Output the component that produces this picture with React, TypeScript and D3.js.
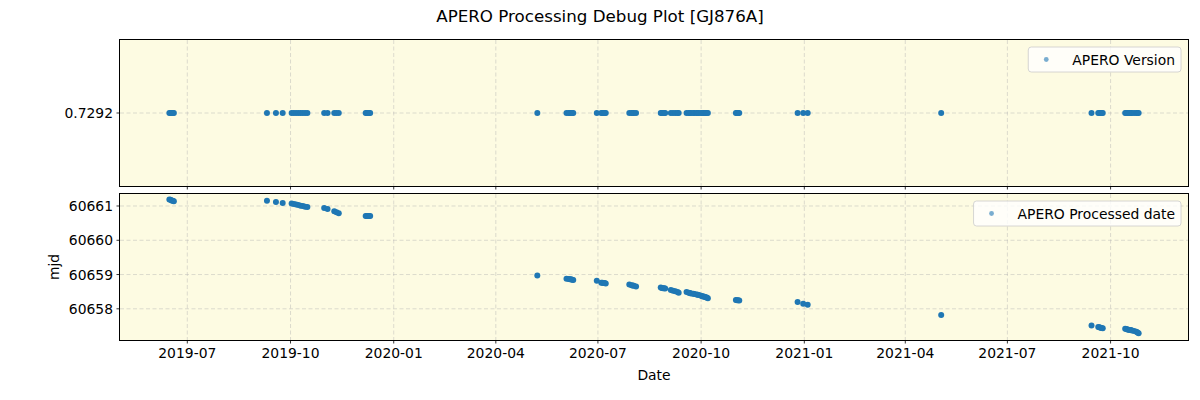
import React, { useEffect, useRef } from "react";
import * as d3 from "d3";

const obsDates = [
  "2019-06-15", "2019-06-16", "2019-06-17", "2019-06-18", "2019-06-19",
  "2019-09-10", "2019-09-18", "2019-09-24",
  "2019-10-02", "2019-10-04", "2019-10-06", "2019-10-08", "2019-10-10", "2019-10-12", "2019-10-14", "2019-10-16",
  "2019-10-31", "2019-11-03", "2019-11-09", "2019-11-11", "2019-11-13",
  "2019-12-07", "2019-12-08", "2019-12-09", "2019-12-10", "2019-12-11",
  "2020-05-08",
  "2020-06-03", "2020-06-05", "2020-06-06", "2020-06-07", "2020-06-08", "2020-06-09",
  "2020-06-30", "2020-07-04", "2020-07-05", "2020-07-06", "2020-07-07", "2020-07-08",
  "2020-07-29", "2020-07-31", "2020-08-01", "2020-08-02", "2020-08-04",
  "2020-08-26", "2020-08-27", "2020-08-28", "2020-08-29", "2020-08-30",
  "2020-09-04", "2020-09-06", "2020-09-08", "2020-09-10", "2020-09-11",
  "2020-09-18", "2020-09-20", "2020-09-21", "2020-09-22", "2020-09-24", "2020-09-25", "2020-09-27", "2020-09-28",
  "2020-09-29", "2020-10-01", "2020-10-02", "2020-10-03", "2020-10-04", "2020-10-05", "2020-10-06", "2020-10-07",
  "2020-11-01", "2020-11-02", "2020-11-03", "2020-11-04",
  "2020-12-26", "2020-12-31", "2021-01-04",
  "2021-05-03",
  "2021-09-14", "2021-09-20", "2021-09-21", "2021-09-22", "2021-09-23", "2021-09-24",
  "2021-10-14", "2021-10-15", "2021-10-16", "2021-10-17", "2021-10-18", "2021-10-19", "2021-10-20",
  "2021-10-22", "2021-10-24", "2021-10-25", "2021-10-26",
];

const processedMjd = [
  60661.19, 60661.18, 60661.16, 60661.15, 60661.14,
  60661.15, 60661.12, 60661.09,
  60661.07, 60661.06, 60661.04, 60661.03, 60661.01, 60661.0, 60660.98, 60660.97,
  60660.94, 60660.91, 60660.85, 60660.82, 60660.79,
  60660.71, 60660.71, 60660.71, 60660.71, 60660.71,
  60658.97,
  60658.88, 60658.87, 60658.86, 60658.86, 60658.85, 60658.84,
  60658.82, 60658.76, 60658.76, 60658.75, 60658.75, 60658.74,
  60658.71, 60658.69, 60658.68, 60658.67, 60658.65,
  60658.62, 60658.61, 60658.60, 60658.60, 60658.59,
  60658.55, 60658.53, 60658.51, 60658.49, 60658.47,
  60658.49, 60658.47, 60658.46, 60658.45, 60658.44, 60658.43, 60658.42, 60658.41,
  60658.40, 60658.38, 60658.37, 60658.36, 60658.35, 60658.34, 60658.33, 60658.31,
  60658.26, 60658.25, 60658.25, 60658.24,
  60658.2, 60658.15, 60658.12,
  60657.82,
  60657.51, 60657.47, 60657.46, 60657.45, 60657.44, 60657.43,
  60657.42, 60657.41, 60657.4, 60657.39, 60657.38, 60657.38, 60657.37,
  60657.35, 60657.33, 60657.31, 60657.29,
];

const aperoVersion = 0.7292;
const versionTicks = ["0.7292"];
const mjdTicks = [60658, 60659, 60660, 60661];
const xDomain = ["2019-05-02", "2021-12-09"];

const width = 1200;
const height = 400;
const left = 120;
const right = 1188;
const topPanel = { y0: 40, y1: 186 };
const botPanel = { y0: 194, y1: 340 };
const font = "DejaVu Sans, sans-serif";
const blue = "#1f77b4";
const bg = "#fdfbe2";

const App = () => {
  const ref = useRef<SVGSVGElement>(null);

  useEffect(() => {
    const svg = d3.select(ref.current);
    svg.selectAll("*").remove();
    const parse = d3.timeParse("%Y-%m-%d");
    const dates = obsDates.map(d => parse(d)!);

    const x = d3.scaleTime()
      .domain(xDomain.map(d => parse(d)!))
      .range([left, right]);
    const xTicks = x.ticks(d3.timeMonth.every(3)!);

    const yTop = d3.scaleLinear()
      .domain([aperoVersion - 0.0001, aperoVersion + 0.0001])
      .range([topPanel.y1, topPanel.y0]);
    const yBot = d3.scaleLinear()
      .domain([60657.09, 60661.35])
      .range([botPanel.y1, botPanel.y0]);

    svg.append("text")
      .attr("x", width / 2).attr("y", 22)
      .attr("text-anchor", "middle")
      .attr("font-family", font).attr("font-size", 16.7)
      .text("APERO Processing Debug Plot [GJ876A]");

    const panels = [
      { p: topPanel, y: (v: number) => yTop(v), vals: dates.map(() => aperoVersion),
        ticks: versionTicks.map(t => ({ v: +t, label: t })), legend: "APERO Version", labels: false },
      { p: botPanel, y: (v: number) => yBot(v), vals: processedMjd,
        ticks: mjdTicks.map(t => ({ v: t, label: String(t) })), legend: "APERO Processed date", labels: true },
    ];

    panels.forEach(({ p, y, vals, ticks, legend, labels }) => {
      const g = svg.append("g");
      g.append("rect")
        .attr("x", left).attr("y", p.y0)
        .attr("width", right - left).attr("height", p.y1 - p.y0)
        .attr("fill", bg);

      // grid
      g.selectAll(".vg").data(xTicks).join("line")
        .attr("x1", d => x(d)).attr("x2", d => x(d))
        .attr("y1", p.y0).attr("y2", p.y1)
        .attr("stroke", "#b0b0b0").attr("stroke-opacity", 0.55)
        .attr("stroke-dasharray", "4,2.5").attr("stroke-width", 0.8);
      g.selectAll(".hg").data(ticks).join("line")
        .attr("x1", left).attr("x2", right)
        .attr("y1", d => y(d.v)).attr("y2", d => y(d.v))
        .attr("stroke", "#b0b0b0").attr("stroke-opacity", 0.55)
        .attr("stroke-dasharray", "4,2.5").attr("stroke-width", 0.8);

      // points
      g.selectAll(".pt").data(dates).join("circle")
        .attr("cx", d => x(d)).attr("cy", (d, i) => y(vals[i]))
        .attr("r", 3).attr("fill", blue);

      // spines
      g.append("rect")
        .attr("x", left - 0.5).attr("y", p.y0 - 0.5)
        .attr("width", right - left + 1).attr("height", p.y1 - p.y0 + 1)
        .attr("fill", "none").attr("stroke", "black").attr("stroke-width", 1);

      // x ticks
      g.selectAll(".xt").data(xTicks).join("line")
        .attr("x1", d => x(d)).attr("x2", d => x(d))
        .attr("y1", p.y1).attr("y2", p.y1 + 3.5)
        .attr("stroke", "black").attr("stroke-width", 0.8);
      if (labels) {
        g.selectAll(".xl").data(xTicks).join("text")
          .attr("x", d => x(d)).attr("y", p.y1 + 18)
          .attr("text-anchor", "middle")
          .attr("font-family", font).attr("font-size", 13.9)
          .text(d => d3.timeFormat("%Y-%m")(d));
      }

      // y ticks
      g.selectAll(".yt").data(ticks).join("line")
        .attr("x1", left - 3.5).attr("x2", left)
        .attr("y1", d => y(d.v)).attr("y2", d => y(d.v))
        .attr("stroke", "black").attr("stroke-width", 0.8);
      g.selectAll(".yl").data(ticks).join("text")
        .attr("x", left - 7).attr("y", d => y(d.v) + 5)
        .attr("text-anchor", "end")
        .attr("font-family", font).attr("font-size", 13.9)
        .text(d => d.label);

      // legend
      const lg = g.append("g");
      const txt = lg.append("text")
        .attr("font-family", font).attr("font-size", 13.9)
        .text(legend);
      const tw = (txt.node() as SVGTextElement).getComputedTextLength();
      const bw = tw + 50;
      const bx = right - 7 - bw;
      const by = p.y0 + 7;
      lg.insert("rect", "text")
        .attr("x", bx).attr("y", by).attr("width", bw).attr("height", 25)
        .attr("rx", 3).attr("fill", "white").attr("fill-opacity", 0.8)
        .attr("stroke", "#cccccc").attr("stroke-width", 0.8);
      lg.append("circle")
        .attr("cx", bx + 18).attr("cy", by + 12.5).attr("r", 2.4)
        .attr("fill", blue).attr("fill-opacity", 0.6);
      txt.attr("x", bx + 44).attr("y", by + 17.5);
    });

    svg.append("text")
      .attr("x", (left + right) / 2).attr("y", 380)
      .attr("text-anchor", "middle")
      .attr("font-family", font).attr("font-size", 13.9)
      .text("Date");
    svg.append("text")
      .attr("transform", `translate(59,${(botPanel.y0 + botPanel.y1) / 2}) rotate(-90)`)
      .attr("text-anchor", "middle")
      .attr("font-family", font).attr("font-size", 13.9)
      .text("mjd");
  }, []);

  return (
    <svg ref={ref} width={width} height={height}
      style={{ position: "absolute", left: 0, top: 0, background: "white" }} />
  );
};

export default App;
